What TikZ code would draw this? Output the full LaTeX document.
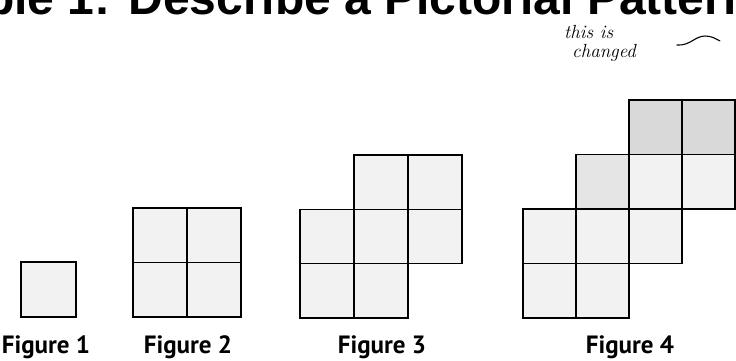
\documentclass[tikz,border=0pt]{standalone}
\usepackage{fontspec}
\newfontfamily\titlefont{Liberation Sans}
\newfontfamily\labelfont{PT Sans}
\begin{document}
\begin{tikzpicture}[x=1pt,y=-1pt,
  cell/.style={draw=black,line width=1.5pt,fill=black!5},
  midcell/.style={cell,fill=black!10},
  darkcell/.style={cell,fill=black!15},
  note/.style={anchor=base west,inner sep=0pt,font=\itshape\fontsize{19}{19}\selectfont},
  figlabel/.style={font=\labelfont\bfseries\fontsize{25}{25}\selectfont,anchor=base,inner sep=0pt}]
  \useasboundingbox (0,0) rectangle (736,360);
  \clip (0,0) rectangle (736,360);

  % Title (cut off at the top)
  \node[anchor=base west,inner sep=0pt,font=\titlefont\bfseries\fontsize{48}{48}\selectfont]
    (title) at (-143,14) {Example 1: Describe a Pictorial Pattern};

  % Note
  \node[note] (note1) at (564,38) {this is};
  \node[note] (note2) at (572,57) {changed};
  \draw[line width=1.1pt,line cap=round]
    (677,45) .. controls (690,46) and (695,36) .. (705,36) .. controls (712,36) and (716,39) .. (720,41);

  % Figure 1
  \draw[cell] (21,317) rectangle ++(55,-55);

  % Figure 2
  \foreach \c/\r in {0/0,1/0,0/1,1/1}
    \draw[cell] (133+54*\c,317-54.5*\r) rectangle ++(54,-54.5);

  % Figure 3
  \foreach \c/\r in {0/0,1/0,0/1,1/1,2/1,1/2,2/2}
    \draw[cell] (300+54*\c,318-54.3*\r) rectangle ++(54,-54.3);

  % Figure 4
  \foreach \c/\r/\s in {0/0/cell,1/0/cell,0/1/cell,1/1/cell,2/1/cell,
                        1/2/midcell,2/2/cell,3/2/cell,2/3/darkcell,3/3/darkcell}
    \draw[\s] (523+53*\c,318-54.5*\r) rectangle ++(53,-54.5);

  % Labels
  \foreach \n/\x in {1/46,2/188,3/382,4/630}
    \node[figlabel] (fig\n) at (\x,353) {Figure \n};
\end{tikzpicture}
\end{document}
